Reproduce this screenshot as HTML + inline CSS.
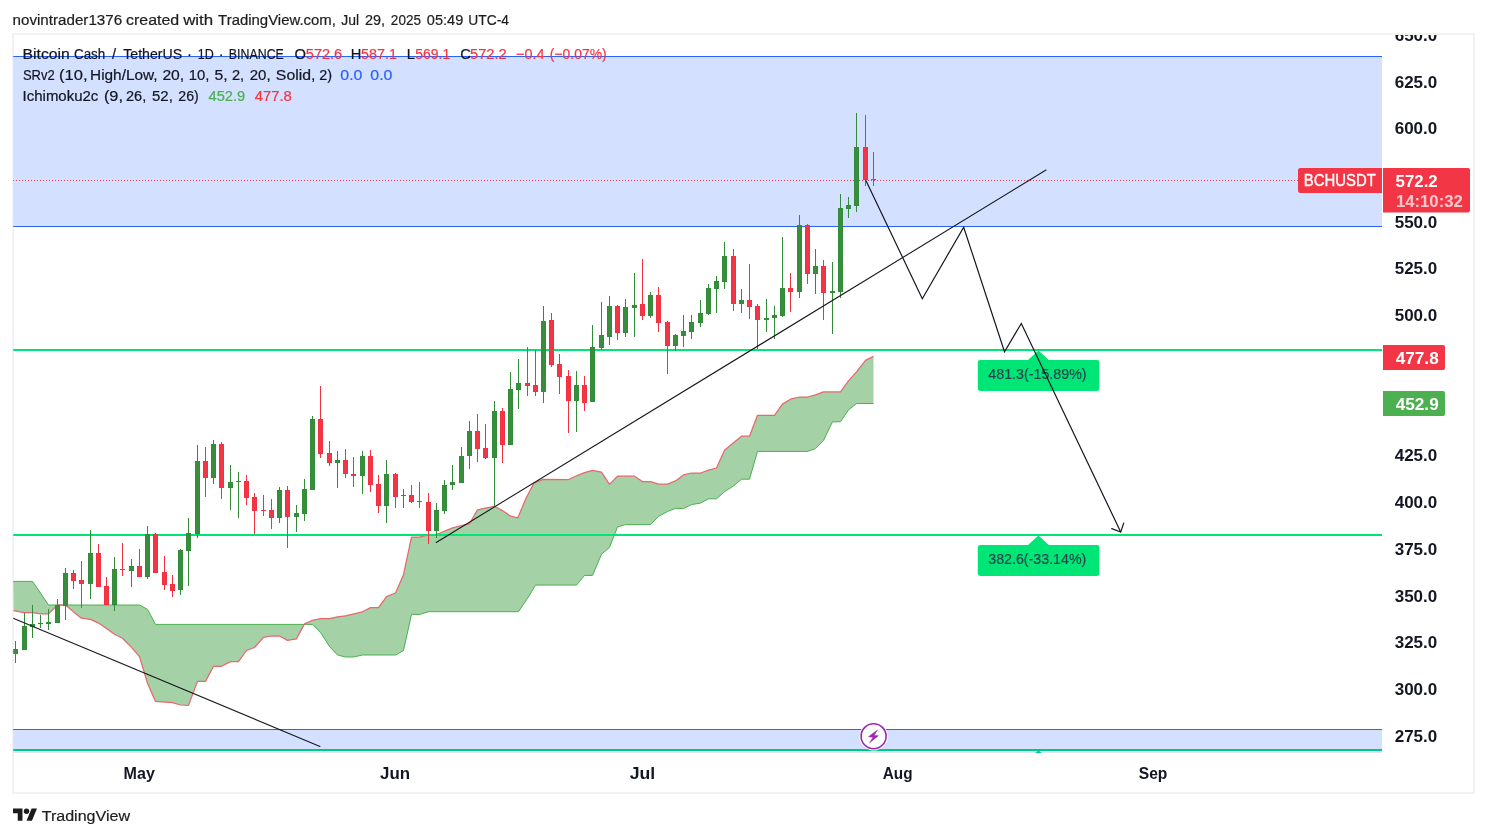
<!DOCTYPE html>
<html lang="en"><head><meta charset="utf-8"><title>BCHUSDT chart - TradingView snapshot</title>
<style>
html,body{margin:0;padding:0;background:#fff;}
body{width:1487px;height:837px;overflow:hidden;}
svg{display:block;}
text{font-family:"Liberation Sans","DejaVu Sans",sans-serif;fill:#131722;}
.ax{font-weight:bold;font-size:16.7px;}
.lg{font-size:14.7px;stroke:#131722;stroke-width:.22px;}
.hd{font-size:15.3px;fill:#1e1e1e;stroke:#1e1e1e;stroke-width:.22px;}
.r{fill:#f23645;stroke:#f23645;}.g{fill:#4caf50;stroke:#4caf50;}.b{fill:#2962ff;stroke:#2962ff;}.w{fill:#fff;}
.bd{font-weight:bold;}
.lb{font-size:14.4px;fill:#27464d;stroke:#27464d;stroke-width:.2px;}
</style></head><body>
<svg width="1487" height="837" viewBox="0 0 1487 837">
<rect width="1487" height="837" fill="#fff"/>
<rect x="13" y="34" width="1461" height="759" fill="#fff" stroke="#f2f2f2" stroke-width="2"/>
<defs><clipPath id="plot"><rect x="13.2" y="35" width="1368.8" height="718"/></clipPath>
<clipPath id="axc"><rect x="1382" y="35" width="91" height="757"/></clipPath></defs>
<g clip-path="url(#plot)">
<rect x="13" y="57" width="1369" height="169.5" fill="#d4e0ff"/>
<rect x="13" y="730" width="1369" height="23" fill="#d4e0ff"/>
<rect x="13" y="751" width="1369" height="2" fill="#dce3fc"/>
<rect x="13" y="56" width="1369" height="1" fill="#2962ff"/>
<rect x="13" y="226" width="1369" height="1" fill="#2962ff"/>
<rect x="13" y="729" width="1369" height="1" fill="#2962ff"/>
<polygon points="13.0,581.4 32.5,581.4 40.5,593.0 48.5,605.0 139.5,605.0 147.5,609.3 155.5,624.4 312.5,624.4 320.5,632.4 329.5,646.5 337.5,655.0 345.5,657.0 353.5,657.0 362.5,655.0 395.5,655.0 403.5,650.5 411.5,614.3 419.5,614.5 428.5,611.7 518.5,611.7 527.5,598.4 535.5,585.1 576.5,585.1 584.5,575.4 592.5,575.4 601.5,554.3 609.5,547.4 617.5,527.0 625.5,524.6 650.5,524.6 658.5,516.5 667.5,511.5 675.5,508.4 683.5,508.5 691.5,504.6 700.5,503.1 708.5,498.8 716.5,498.8 724.5,491.7 733.5,485.9 741.5,479.2 749.5,479.2 757.5,451.4 807.5,451.4 815.5,448.6 823.5,440.5 832.5,421.8 840.5,421.8 848.5,409.9 856.5,403.5 873.5,403.5 873.5,356.4 865.5,360.4 856.5,371.8 848.5,380.9 840.5,391.9 823.5,391.9 815.5,394.9 807.5,397.0 799.5,397.0 790.5,399.2 782.5,404.1 774.5,415.3 757.5,415.3 749.5,436.2 741.5,436.2 733.5,442.8 724.5,450.2 716.5,468.0 708.5,470.2 700.5,473.0 691.5,473.0 683.5,474.9 675.5,480.9 667.5,484.2 658.5,484.2 650.5,481.6 642.5,481.6 634.5,476.2 617.5,476.2 609.5,484.4 601.5,472.2 592.5,470.4 584.5,472.6 576.5,475.8 568.5,479.5 543.1,479.4 533.9,483.1 526.0,498.3 517.8,517.8 510.6,516.2 502.5,510.6 494.5,506.3 485.5,508.1 477.5,509.8 469.5,523.8 461.5,525.7 452.5,527.8 436.5,534.5 428.5,534.9 419.5,537.1 411.5,537.1 403.5,574.7 395.5,593.0 386.5,596.7 378.5,607.6 370.5,607.6 362.5,611.8 345.5,615.8 337.5,616.8 329.5,618.6 320.5,618.6 312.5,620.3 304.5,623.9 296.5,638.8 287.5,640.4 279.5,636.0 271.5,636.0 263.5,637.4 254.5,647.5 246.5,650.5 238.5,661.6 230.5,661.6 221.5,666.3 213.5,666.3 205.5,681.4 197.5,681.4 188.5,705.4 180.5,705.0 172.5,702.6 155.5,701.4 147.5,683.2 139.5,656.6 131.5,647.4 122.5,638.2 114.5,634.3 106.5,628.4 98.5,623.1 90.5,619.4 81.5,618.2 73.5,611.9 65.5,605.0 57.5,605.0 48.5,613.9 40.5,613.9 32.5,612.6 24.5,612.6 13.5,610.6" fill="#a5d1a7"/>
<polyline points="13.0,581.4 32.5,581.4 40.5,593.0 48.5,605.0 139.5,605.0 147.5,609.3 155.5,624.4 312.5,624.4 320.5,632.4 329.5,646.5 337.5,655.0 345.5,657.0 353.5,657.0 362.5,655.0 395.5,655.0 403.5,650.5 411.5,614.3 419.5,614.5 428.5,611.7 518.5,611.7 527.5,598.4 535.5,585.1 576.5,585.1 584.5,575.4 592.5,575.4 601.5,554.3 609.5,547.4 617.5,527.0 625.5,524.6 650.5,524.6 658.5,516.5 667.5,511.5 675.5,508.4 683.5,508.5 691.5,504.6 700.5,503.1 708.5,498.8 716.5,498.8 724.5,491.7 733.5,485.9 741.5,479.2 749.5,479.2 757.5,451.4 807.5,451.4 815.5,448.6 823.5,440.5 832.5,421.8 840.5,421.8 848.5,409.9 856.5,403.5 873.5,403.5" fill="none" stroke="#4caf50" stroke-width="1" stroke-linejoin="round"/>
<polyline points="13.5,610.6 24.5,612.6 32.5,612.6 40.5,613.9 48.5,613.9 57.5,605.0 65.5,605.0 73.5,611.9 81.5,618.2 90.5,619.4 98.5,623.1 106.5,628.4 114.5,634.3 122.5,638.2 131.5,647.4 139.5,656.6 147.5,683.2 155.5,701.4 172.5,702.6 180.5,705.0 188.5,705.4 197.5,681.4 205.5,681.4 213.5,666.3 221.5,666.3 230.5,661.6 238.5,661.6 246.5,650.5 254.5,647.5 263.5,637.4 271.5,636.0 279.5,636.0 287.5,640.4 296.5,638.8 304.5,623.9 312.5,620.3 320.5,618.6 329.5,618.6 337.5,616.8 345.5,615.8 362.5,611.8 370.5,607.6 378.5,607.6 386.5,596.7 395.5,593.0 403.5,574.7 411.5,537.1 419.5,537.1 428.5,534.9 436.5,534.5 452.5,527.8 461.5,525.7 469.5,523.8 477.5,509.8 485.5,508.1 494.5,506.3 502.5,510.6 510.6,516.2 517.8,517.8 526.0,498.3 533.9,483.1 543.1,479.4 568.5,479.5 576.5,475.8 584.5,472.6 592.5,470.4 601.5,472.2 609.5,484.4 617.5,476.2 634.5,476.2 642.5,481.6 650.5,481.6 658.5,484.2 667.5,484.2 675.5,480.9 683.5,474.9 691.5,473.0 700.5,473.0 708.5,470.2 716.5,468.0 724.5,450.2 733.5,442.8 741.5,436.2 749.5,436.2 757.5,415.3 774.5,415.3 782.5,404.1 790.5,399.2 799.5,397.0 807.5,397.0 815.5,394.9 823.5,391.9 840.5,391.9 848.5,380.9 856.5,371.8 865.5,360.4 873.5,356.4" fill="none" stroke="#e8676f" stroke-width="1.25" stroke-linejoin="round"/>
<rect x="13" y="349" width="1369" height="2" fill="#00e676"/>
<rect x="13" y="534" width="1369" height="2" fill="#00e676"/>
<rect x="13" y="749" width="1369" height="2" fill="#00c884"/>
<polygon points="1035.2,753 1038.5,750.4 1041.8,753" fill="#00c884"/>
<line x1="13" y1="180.5" x2="1298" y2="180.5" stroke="#f23645" stroke-width="1" stroke-dasharray="1 2"/>
<path d="M15 641h1v22h-1zM13 649h5v5h-5z" fill="#328b39"/>
<rect x="14" y="650" width="3" height="3" fill="#388e3c"/>
<path d="M24 613h1v37h-1zM22 626h5v24h-5z" fill="#328b39"/>
<rect x="23" y="627" width="3" height="22" fill="#388e3c"/>
<path d="M32 605h1v33h-1zM30 624h5v3h-5z" fill="#328b39"/>
<rect x="31" y="625" width="3" height="1" fill="#388e3c"/>
<path d="M40 615h1v13h-1zM38 623h5v1h-5z" fill="#328b39"/>
<path d="M48 609h1v21h-1zM46 622h5v2h-5z" fill="#328b39"/>
<path d="M57 599h1v24h-1zM55 605h5v18h-5z" fill="#328b39"/>
<rect x="56" y="606" width="3" height="16" fill="#388e3c"/>
<path d="M65 568h1v52h-1zM63 573h5v33h-5z" fill="#328b39"/>
<rect x="64" y="574" width="3" height="31" fill="#388e3c"/>
<path d="M73 570h1v19h-1zM71 573h5v8h-5z" fill="#f13041"/>
<rect x="72" y="574" width="3" height="6" fill="#f23645"/>
<path d="M81 561h1v47h-1zM79 580h5v4h-5z" fill="#f13041"/>
<rect x="80" y="581" width="3" height="2" fill="#f23645"/>
<path d="M90 530h1v69h-1zM88 553h5v31h-5z" fill="#328b39"/>
<rect x="89" y="554" width="3" height="29" fill="#388e3c"/>
<path d="M98 544h1v43h-1zM96 553h5v34h-5z" fill="#f13041"/>
<rect x="97" y="554" width="3" height="32" fill="#f23645"/>
<path d="M106 577h1v28h-1zM104 586h5v19h-5z" fill="#f13041"/>
<rect x="105" y="587" width="3" height="17" fill="#f23645"/>
<path d="M114 557h1v54h-1zM112 569h5v36h-5z" fill="#328b39"/>
<rect x="113" y="570" width="3" height="34" fill="#388e3c"/>
<path d="M122 543h1v33h-1zM120 569h5v1h-5z" fill="#f13041"/>
<path d="M131 559h1v28h-1zM129 566h5v5h-5z" fill="#328b39"/>
<rect x="130" y="567" width="3" height="3" fill="#388e3c"/>
<path d="M139 549h1v28h-1zM137 566h5v11h-5z" fill="#f13041"/>
<rect x="138" y="567" width="3" height="9" fill="#f23645"/>
<path d="M147 526h1v53h-1zM145 534h5v43h-5z" fill="#328b39"/>
<rect x="146" y="535" width="3" height="41" fill="#388e3c"/>
<path d="M155 533h1v40h-1zM153 534h5v39h-5z" fill="#f13041"/>
<rect x="154" y="535" width="3" height="37" fill="#f23645"/>
<path d="M164 556h1v34h-1zM162 572h5v13h-5z" fill="#f13041"/>
<rect x="163" y="573" width="3" height="11" fill="#f23645"/>
<path d="M172 575h1v22h-1zM170 584h5v7h-5z" fill="#f13041"/>
<rect x="171" y="585" width="3" height="5" fill="#f23645"/>
<path d="M180 549h1v46h-1zM178 550h5v40h-5z" fill="#328b39"/>
<rect x="179" y="551" width="3" height="38" fill="#388e3c"/>
<path d="M188 518h1v68h-1zM186 533h5v18h-5z" fill="#328b39"/>
<rect x="187" y="534" width="3" height="16" fill="#388e3c"/>
<path d="M197 445h1v93h-1zM195 461h5v73h-5z" fill="#328b39"/>
<rect x="196" y="462" width="3" height="71" fill="#388e3c"/>
<path d="M205 447h1v50h-1zM203 461h5v17h-5z" fill="#f13041"/>
<rect x="204" y="462" width="3" height="15" fill="#f23645"/>
<path d="M213 440h1v44h-1zM211 444h5v34h-5z" fill="#328b39"/>
<rect x="212" y="445" width="3" height="32" fill="#388e3c"/>
<path d="M221 442h1v57h-1zM219 444h5v44h-5z" fill="#f13041"/>
<rect x="220" y="445" width="3" height="42" fill="#f23645"/>
<path d="M230 465h1v45h-1zM228 482h5v6h-5z" fill="#328b39"/>
<rect x="229" y="483" width="3" height="4" fill="#388e3c"/>
<path d="M238 472h1v46h-1zM236 481h5v1h-5z" fill="#328b39"/>
<path d="M246 475h1v30h-1zM244 481h5v17h-5z" fill="#f13041"/>
<rect x="245" y="482" width="3" height="15" fill="#f23645"/>
<path d="M254 493h1v41h-1zM252 497h5v14h-5z" fill="#f13041"/>
<rect x="253" y="498" width="3" height="12" fill="#f23645"/>
<path d="M263 495h1v21h-1zM261 510h5v1h-5z" fill="#f13041"/>
<path d="M271 499h1v30h-1zM269 510h5v8h-5z" fill="#f13041"/>
<rect x="270" y="511" width="3" height="6" fill="#f23645"/>
<path d="M279 487h1v36h-1zM277 490h5v28h-5z" fill="#328b39"/>
<rect x="278" y="491" width="3" height="26" fill="#388e3c"/>
<path d="M287 486h1v62h-1zM285 490h5v27h-5z" fill="#f13041"/>
<rect x="286" y="491" width="3" height="25" fill="#f23645"/>
<path d="M296 505h1v27h-1zM294 513h5v4h-5z" fill="#328b39"/>
<rect x="295" y="514" width="3" height="2" fill="#388e3c"/>
<path d="M304 479h1v42h-1zM302 489h5v25h-5z" fill="#328b39"/>
<rect x="303" y="490" width="3" height="23" fill="#388e3c"/>
<path d="M312 416h1v74h-1zM310 419h5v71h-5z" fill="#328b39"/>
<rect x="311" y="420" width="3" height="69" fill="#388e3c"/>
<path d="M320 386h1v72h-1zM318 419h5v35h-5z" fill="#f13041"/>
<rect x="319" y="420" width="3" height="33" fill="#f23645"/>
<path d="M329 441h1v25h-1zM327 453h5v10h-5z" fill="#f13041"/>
<rect x="328" y="454" width="3" height="8" fill="#f23645"/>
<path d="M337 451h1v37h-1zM335 460h5v3h-5z" fill="#328b39"/>
<rect x="336" y="461" width="3" height="1" fill="#388e3c"/>
<path d="M345 449h1v29h-1zM343 460h5v14h-5z" fill="#f13041"/>
<rect x="344" y="461" width="3" height="12" fill="#f23645"/>
<path d="M353 457h1v30h-1zM351 474h5v2h-5z" fill="#f13041"/>
<path d="M362 451h1v43h-1zM360 456h5v20h-5z" fill="#328b39"/>
<rect x="361" y="457" width="3" height="18" fill="#388e3c"/>
<path d="M370 450h1v42h-1zM368 456h5v29h-5z" fill="#f13041"/>
<rect x="369" y="457" width="3" height="27" fill="#f23645"/>
<path d="M378 475h1v38h-1zM376 484h5v22h-5z" fill="#f13041"/>
<rect x="377" y="485" width="3" height="20" fill="#f23645"/>
<path d="M386 460h1v63h-1zM384 474h5v32h-5z" fill="#328b39"/>
<rect x="385" y="475" width="3" height="30" fill="#388e3c"/>
<path d="M395 473h1v35h-1zM393 474h5v23h-5z" fill="#f13041"/>
<rect x="394" y="475" width="3" height="21" fill="#f23645"/>
<path d="M403 489h1v19h-1zM401 495h5v1h-5z" fill="#328b39"/>
<path d="M411 485h1v18h-1zM409 495h5v7h-5z" fill="#f13041"/>
<rect x="410" y="496" width="3" height="5" fill="#f23645"/>
<path d="M419 482h1v26h-1zM417 501h5v1h-5z" fill="#f13041"/>
<path d="M428 493h1v51h-1zM426 502h5v29h-5z" fill="#f13041"/>
<rect x="427" y="503" width="3" height="27" fill="#f23645"/>
<path d="M436 503h1v35h-1zM434 510h5v21h-5z" fill="#328b39"/>
<rect x="435" y="511" width="3" height="19" fill="#388e3c"/>
<path d="M444 480h1v34h-1zM442 485h5v26h-5z" fill="#328b39"/>
<rect x="443" y="486" width="3" height="24" fill="#388e3c"/>
<path d="M452 465h1v25h-1zM450 482h5v3h-5z" fill="#328b39"/>
<rect x="451" y="483" width="3" height="1" fill="#388e3c"/>
<path d="M461 447h1v36h-1zM459 456h5v27h-5z" fill="#328b39"/>
<rect x="460" y="457" width="3" height="25" fill="#388e3c"/>
<path d="M469 421h1v48h-1zM467 431h5v25h-5z" fill="#328b39"/>
<rect x="468" y="432" width="3" height="23" fill="#388e3c"/>
<path d="M477 414h1v48h-1zM475 431h5v18h-5z" fill="#f13041"/>
<rect x="476" y="432" width="3" height="16" fill="#f23645"/>
<path d="M485 424h1v35h-1zM483 448h5v10h-5z" fill="#f13041"/>
<rect x="484" y="449" width="3" height="8" fill="#f23645"/>
<path d="M494 401h1v105h-1zM492 411h5v47h-5z" fill="#328b39"/>
<rect x="493" y="412" width="3" height="45" fill="#388e3c"/>
<path d="M502 408h1v55h-1zM500 411h5v34h-5z" fill="#f13041"/>
<rect x="501" y="412" width="3" height="32" fill="#f23645"/>
<path d="M510 372h1v73h-1zM508 389h5v56h-5z" fill="#328b39"/>
<rect x="509" y="390" width="3" height="54" fill="#388e3c"/>
<path d="M518 359h1v50h-1zM516 383h5v7h-5z" fill="#328b39"/>
<rect x="517" y="384" width="3" height="5" fill="#388e3c"/>
<path d="M527 347h1v49h-1zM525 383h5v3h-5z" fill="#f13041"/>
<rect x="526" y="384" width="3" height="1" fill="#f23645"/>
<path d="M535 350h1v46h-1zM533 385h5v7h-5z" fill="#f13041"/>
<rect x="534" y="386" width="3" height="5" fill="#f23645"/>
<path d="M543 306h1v97h-1zM541 321h5v71h-5z" fill="#328b39"/>
<rect x="542" y="322" width="3" height="69" fill="#388e3c"/>
<path d="M551 313h1v54h-1zM549 320h5v45h-5z" fill="#f13041"/>
<rect x="550" y="321" width="3" height="43" fill="#f23645"/>
<path d="M559 354h1v40h-1zM557 364h5v13h-5z" fill="#f13041"/>
<rect x="558" y="365" width="3" height="11" fill="#f23645"/>
<path d="M568 370h1v63h-1zM566 376h5v25h-5z" fill="#f13041"/>
<rect x="567" y="377" width="3" height="23" fill="#f23645"/>
<path d="M576 371h1v61h-1zM574 385h5v16h-5z" fill="#328b39"/>
<rect x="575" y="386" width="3" height="14" fill="#388e3c"/>
<path d="M584 376h1v35h-1zM582 385h5v18h-5z" fill="#f13041"/>
<rect x="583" y="386" width="3" height="16" fill="#f23645"/>
<path d="M592 325h1v77h-1zM590 347h5v55h-5z" fill="#328b39"/>
<rect x="591" y="348" width="3" height="53" fill="#388e3c"/>
<path d="M601 302h1v48h-1zM599 335h5v13h-5z" fill="#328b39"/>
<rect x="600" y="336" width="3" height="11" fill="#388e3c"/>
<path d="M609 296h1v49h-1zM607 306h5v31h-5z" fill="#328b39"/>
<rect x="608" y="307" width="3" height="29" fill="#388e3c"/>
<path d="M617 305h1v35h-1zM615 306h5v27h-5z" fill="#f13041"/>
<rect x="616" y="307" width="3" height="25" fill="#f23645"/>
<path d="M625 299h1v38h-1zM623 307h5v26h-5z" fill="#328b39"/>
<rect x="624" y="308" width="3" height="24" fill="#388e3c"/>
<path d="M634 273h1v64h-1zM632 305h5v3h-5z" fill="#328b39"/>
<rect x="633" y="306" width="3" height="1" fill="#388e3c"/>
<path d="M642 259h1v61h-1zM640 304h5v12h-5z" fill="#f13041"/>
<rect x="641" y="305" width="3" height="10" fill="#f23645"/>
<path d="M650 292h1v26h-1zM648 295h5v21h-5z" fill="#328b39"/>
<rect x="649" y="296" width="3" height="19" fill="#388e3c"/>
<path d="M658 287h1v45h-1zM656 295h5v28h-5z" fill="#f13041"/>
<rect x="657" y="296" width="3" height="26" fill="#f23645"/>
<path d="M667 321h1v53h-1zM665 322h5v24h-5z" fill="#f13041"/>
<rect x="666" y="323" width="3" height="22" fill="#f23645"/>
<path d="M675 334h1v17h-1zM673 335h5v11h-5z" fill="#328b39"/>
<rect x="674" y="336" width="3" height="9" fill="#388e3c"/>
<path d="M683 315h1v32h-1zM681 331h5v5h-5z" fill="#328b39"/>
<rect x="682" y="332" width="3" height="3" fill="#388e3c"/>
<path d="M691 315h1v24h-1zM689 322h5v10h-5z" fill="#328b39"/>
<rect x="690" y="323" width="3" height="8" fill="#388e3c"/>
<path d="M700 300h1v27h-1zM698 313h5v10h-5z" fill="#328b39"/>
<rect x="699" y="314" width="3" height="8" fill="#388e3c"/>
<path d="M708 284h1v31h-1zM706 288h5v26h-5z" fill="#328b39"/>
<rect x="707" y="289" width="3" height="24" fill="#388e3c"/>
<path d="M716 276h1v37h-1zM714 281h5v8h-5z" fill="#328b39"/>
<rect x="715" y="282" width="3" height="6" fill="#388e3c"/>
<path d="M724 242h1v47h-1zM722 256h5v26h-5z" fill="#328b39"/>
<rect x="723" y="257" width="3" height="24" fill="#388e3c"/>
<path d="M733 249h1v62h-1zM731 256h5v48h-5z" fill="#f13041"/>
<rect x="732" y="257" width="3" height="46" fill="#f23645"/>
<path d="M741 289h1v24h-1zM739 300h5v4h-5z" fill="#328b39"/>
<rect x="740" y="301" width="3" height="2" fill="#388e3c"/>
<path d="M749 264h1v55h-1zM747 300h5v7h-5z" fill="#f13041"/>
<rect x="748" y="301" width="3" height="5" fill="#f23645"/>
<path d="M757 304h1v45h-1zM755 306h5v14h-5z" fill="#f13041"/>
<rect x="756" y="307" width="3" height="12" fill="#f23645"/>
<path d="M766 299h1v33h-1zM764 318h5v2h-5z" fill="#328b39"/>
<path d="M774 306h1v33h-1zM772 315h5v3h-5z" fill="#328b39"/>
<rect x="773" y="316" width="3" height="1" fill="#388e3c"/>
<path d="M782 237h1v80h-1zM780 288h5v28h-5z" fill="#328b39"/>
<rect x="781" y="289" width="3" height="26" fill="#388e3c"/>
<path d="M790 273h1v39h-1zM788 288h5v4h-5z" fill="#f13041"/>
<rect x="789" y="289" width="3" height="2" fill="#f23645"/>
<path d="M799 215h1v83h-1zM797 225h5v67h-5z" fill="#328b39"/>
<rect x="798" y="226" width="3" height="65" fill="#388e3c"/>
<path d="M807 224h1v60h-1zM805 225h5v49h-5z" fill="#f13041"/>
<rect x="806" y="226" width="3" height="47" fill="#f23645"/>
<path d="M815 249h1v45h-1zM813 266h5v8h-5z" fill="#328b39"/>
<rect x="814" y="267" width="3" height="6" fill="#388e3c"/>
<path d="M823 260h1v60h-1zM821 266h5v27h-5z" fill="#f13041"/>
<rect x="822" y="267" width="3" height="25" fill="#f23645"/>
<path d="M832 262h1v72h-1zM830 291h5v2h-5z" fill="#328b39"/>
<path d="M840 194h1v104h-1zM838 208h5v84h-5z" fill="#328b39"/>
<rect x="839" y="209" width="3" height="82" fill="#388e3c"/>
<path d="M848 197h1v21h-1zM846 205h5v4h-5z" fill="#328b39"/>
<rect x="847" y="206" width="3" height="2" fill="#388e3c"/>
<path d="M856 113h1v99h-1zM854 147h5v59h-5z" fill="#328b39"/>
<rect x="855" y="148" width="3" height="57" fill="#388e3c"/>
<path d="M865 115h1v71h-1zM863 147h5v33h-5z" fill="#f13041"/>
<rect x="864" y="148" width="3" height="31" fill="#f23645"/>
<path d="M873 152h1v34h-1zM871 179h5v1h-5z" fill="#f13041"/>
<path d="M980.2 360h47.8l10.4 -9.6l10.4 9.6h48.2a2.4 2.4 0 0 1 2.4 2.4v26.2a2.4 2.4 0 0 1 -2.4 2.4h-116.8a2.4 2.4 0 0 1 -2.4 -2.4v-26.2a2.4 2.4 0 0 1 2.4 -2.4z" fill="#00e676"/>
<text class="lb" x="988.3" y="378.9" textLength="98.3" lengthAdjust="spacingAndGlyphs">481.3(-15.89%)</text>
<path d="M980.2 545h47.8l10.4 -9.6l10.4 9.6h48.2a2.4 2.4 0 0 1 2.4 2.4v26.2a2.4 2.4 0 0 1 -2.4 2.4h-116.8a2.4 2.4 0 0 1 -2.4 -2.4v-26.2a2.4 2.4 0 0 1 2.4 -2.4z" fill="#00e676"/>
<text class="lb" x="988.3" y="563.9" textLength="98.0" lengthAdjust="spacingAndGlyphs">382.6(-33.14%)</text>
<g fill="none" stroke="#17191f" stroke-width="1.1" stroke-linecap="round">
<line x1="13.2" y1="618.3" x2="320" y2="746.4"/>
<line x1="436.2" y1="542.5" x2="1046" y2="170"/>
</g>
<g fill="none" stroke="#131722" stroke-width="1.2" stroke-linecap="round" stroke-linejoin="miter">
<polyline points="865.9,180.5 922.3,298.7 963.7,227.2 1004.5,351.7 1021.3,323.4 1120.7,532"/>
<polyline points="1111.7,528.6 1120.7,532 1123.7,523.1"/>
</g>
<circle cx="873.6" cy="736.2" r="14.2" fill="#fff"/>
<circle cx="873.6" cy="736.2" r="12.5" fill="#fff" stroke="#9c27b0" stroke-width="1.6"/>
<path d="M877.4 730l-8.9 6.8l4.6 .35l-3.5 5.7l8.8 -7.15l-4.3 -.3z" fill="#9c27b0" stroke="#9c27b0" stroke-width=".5" stroke-linejoin="round"/>
<path d="M1300.5 168h81.5v25h-81.5a2.5 2.5 0 0 1 -2.5 -2.5v-20a2.5 2.5 0 0 1 2.5 -2.5z" fill="#f23645"/>
<text x="1303.8" y="186.4" class="w" style="font-size:16.3px;stroke:#fff;stroke-width:.35px" textLength="72" lengthAdjust="spacingAndGlyphs">BCHUSDT</text>
</g>
<text class="hd" x="12.54" y="24.9" textLength="109.59" lengthAdjust="spacingAndGlyphs">novintrader1376</text>
<text class="hd" x="126.04" y="24.9" textLength="53.15" lengthAdjust="spacingAndGlyphs">created</text>
<text class="hd" x="183.18" y="24.9" textLength="29.97" lengthAdjust="spacingAndGlyphs">with</text>
<text class="hd" x="218.12" y="24.9" textLength="117.75" lengthAdjust="spacingAndGlyphs">TradingView.com,</text>
<text class="hd" x="341.24" y="24.9" textLength="17.83" lengthAdjust="spacingAndGlyphs">Jul</text>
<text class="hd" x="364.92" y="24.9" textLength="20.08" lengthAdjust="spacingAndGlyphs">29,</text>
<text class="hd" x="390.86" y="24.9" textLength="30.07" lengthAdjust="spacingAndGlyphs">2025</text>
<text class="hd" x="426.86" y="24.9" textLength="36.42" lengthAdjust="spacingAndGlyphs">05:49</text>
<text class="hd" x="468.36" y="24.9" textLength="40.62" lengthAdjust="spacingAndGlyphs">UTC-4</text>
<text class="lg" x="22.60" y="58.9" textLength="47.19" lengthAdjust="spacingAndGlyphs">Bitcoin</text>
<text class="lg" x="73.98" y="58.9" textLength="31.33" lengthAdjust="spacingAndGlyphs">Cash</text>
<text class="lg" x="112.04" y="58.9">/</text>
<text class="lg" x="123.24" y="58.9" textLength="58.96" lengthAdjust="spacingAndGlyphs">TetherUS</text>
<text class="lg" x="187.10" y="58.9">·</text>
<text class="lg" x="197.80" y="58.9" textLength="16.01" lengthAdjust="spacingAndGlyphs">1D</text>
<text class="lg" x="218.64" y="58.9">·</text>
<text class="lg" x="228.86" y="58.9" textLength="55.00" lengthAdjust="spacingAndGlyphs">BINANCE</text>
<text class="lg" x="294.54" y="58.9">O</text>
<text class="lg r" x="305.80" y="58.9" textLength="36.40" lengthAdjust="spacingAndGlyphs">572.6</text>
<text class="lg" x="350.78" y="58.9">H</text>
<text class="lg r" x="360.98" y="58.9" textLength="35.90" lengthAdjust="spacingAndGlyphs">587.1</text>
<text class="lg" x="406.64" y="58.9">L</text>
<text class="lg r" x="415.24" y="58.9" textLength="35.05" lengthAdjust="spacingAndGlyphs">569.1</text>
<text class="lg" x="460.18" y="58.9">C</text>
<text class="lg r" x="469.98" y="58.9" textLength="36.84" lengthAdjust="spacingAndGlyphs">572.2</text>
<text class="lg r" x="516.04" y="58.9" textLength="28.53" lengthAdjust="spacingAndGlyphs">−0.4</text>
<text class="lg r" x="549.86" y="58.9" textLength="56.78" lengthAdjust="spacingAndGlyphs">(−0.07%)</text>
<text class="lg" x="22.92" y="80.0" textLength="31.80" lengthAdjust="spacingAndGlyphs">SRv2</text>
<text class="lg" x="59.04" y="80.0" textLength="28.47" lengthAdjust="spacingAndGlyphs">(10,</text>
<text class="lg" x="90.04" y="80.0" textLength="67.52" lengthAdjust="spacingAndGlyphs">High/Low,</text>
<text class="lg" x="162.42" y="80.0" textLength="21.79" lengthAdjust="spacingAndGlyphs">20,</text>
<text class="lg" x="188.72" y="80.0" textLength="20.61" lengthAdjust="spacingAndGlyphs">10,</text>
<text class="lg" x="214.54" y="80.0" textLength="13.09" lengthAdjust="spacingAndGlyphs">5,</text>
<text class="lg" x="231.92" y="80.0" textLength="12.16" lengthAdjust="spacingAndGlyphs">2,</text>
<text class="lg" x="249.80" y="80.0" textLength="20.81" lengthAdjust="spacingAndGlyphs">20,</text>
<text class="lg" x="275.86" y="80.0" textLength="39.55" lengthAdjust="spacingAndGlyphs">Solid,</text>
<text class="lg" x="319.36" y="80.0" textLength="12.79" lengthAdjust="spacingAndGlyphs">2)</text>
<text class="lg b" x="340.36" y="80.0" textLength="22.11" lengthAdjust="spacingAndGlyphs">0.0</text>
<text class="lg b" x="370.36" y="80.0" textLength="22.11" lengthAdjust="spacingAndGlyphs">0.0</text>
<text class="lg" x="22.60" y="101.4" textLength="75.75" lengthAdjust="spacingAndGlyphs">Ichimoku2c</text>
<text class="lg" x="103.92" y="101.4" textLength="19.08" lengthAdjust="spacingAndGlyphs">(9,</text>
<text class="lg" x="126.04" y="101.4" textLength="20.20" lengthAdjust="spacingAndGlyphs">26,</text>
<text class="lg" x="152.04" y="101.4" textLength="20.77" lengthAdjust="spacingAndGlyphs">52,</text>
<text class="lg" x="178.30" y="101.4" textLength="20.44" lengthAdjust="spacingAndGlyphs">26)</text>
<text class="lg g" x="208.56" y="101.4" textLength="36.68" lengthAdjust="spacingAndGlyphs">452.9</text>
<text class="lg r" x="254.68" y="101.4" textLength="37.11" lengthAdjust="spacingAndGlyphs">477.8</text>
<g clip-path="url(#axc)">
<text class="ax" x="1394.7" y="40.8" textLength="42.6" lengthAdjust="spacingAndGlyphs">650.0</text>
<text class="ax" x="1394.7" y="87.5" textLength="42.6" lengthAdjust="spacingAndGlyphs">625.0</text>
<text class="ax" x="1394.7" y="134.3" textLength="42.6" lengthAdjust="spacingAndGlyphs">600.0</text>
<text class="ax" x="1394.7" y="227.7" textLength="42.6" lengthAdjust="spacingAndGlyphs">550.0</text>
<text class="ax" x="1394.7" y="274.4" textLength="42.6" lengthAdjust="spacingAndGlyphs">525.0</text>
<text class="ax" x="1394.7" y="321.2" textLength="42.6" lengthAdjust="spacingAndGlyphs">500.0</text>
<text class="ax" x="1394.7" y="461.3" textLength="42.6" lengthAdjust="spacingAndGlyphs">425.0</text>
<text class="ax" x="1394.7" y="508.1" textLength="42.6" lengthAdjust="spacingAndGlyphs">400.0</text>
<text class="ax" x="1394.7" y="554.8" textLength="42.6" lengthAdjust="spacingAndGlyphs">375.0</text>
<text class="ax" x="1394.7" y="601.5" textLength="42.6" lengthAdjust="spacingAndGlyphs">350.0</text>
<text class="ax" x="1394.7" y="648.3" textLength="42.6" lengthAdjust="spacingAndGlyphs">325.0</text>
<text class="ax" x="1394.7" y="695.0" textLength="42.6" lengthAdjust="spacingAndGlyphs">300.0</text>
<text class="ax" x="1394.7" y="741.7" textLength="42.6" lengthAdjust="spacingAndGlyphs">275.0</text>
</g>
<path d="M1383 168h85a2 2 0 0 1 2 2v40.6a2 2 0 0 1 -2 2h-85z" fill="#f23645"/>
<text class="ax w" x="1395.5" y="186.5" textLength="42.2" lengthAdjust="spacingAndGlyphs">572.2</text>
<text class="ax w" x="1395.9" y="206.6" fill-opacity="0.72" textLength="66.9" lengthAdjust="spacingAndGlyphs">14:10:32</text>
<path d="M1383 345h60a2 2 0 0 1 2 2v21a2 2 0 0 1 -2 2h-60z" fill="#f23645"/>
<text class="ax w" x="1395.7" y="363.6" textLength="43" lengthAdjust="spacingAndGlyphs">477.8</text>
<path d="M1383 391h60a2 2 0 0 1 2 2v21a2 2 0 0 1 -2 2h-60z" fill="#4caf50"/>
<text class="ax w" x="1395.7" y="409.7" textLength="43" lengthAdjust="spacingAndGlyphs">452.9</text>
<text class="ax" x="123.6" y="778.9" textLength="31.3" lengthAdjust="spacingAndGlyphs">May</text>
<text class="ax" x="380.1" y="778.9" textLength="30.0" lengthAdjust="spacingAndGlyphs">Jun</text>
<text class="ax" x="629.7" y="778.9" textLength="25.5" lengthAdjust="spacingAndGlyphs">Jul</text>
<text class="ax" x="882.8" y="778.9" textLength="29.8" lengthAdjust="spacingAndGlyphs">Aug</text>
<text class="ax" x="1138.8" y="778.9" textLength="28.6" lengthAdjust="spacingAndGlyphs">Sep</text>
<g transform="translate(13,805.8) scale(0.676)" fill="#1c1c1c">
<path d="M14 22H7V11H0V4h14v18zM28 22h-8l7.5-18h8L28 22z"/><circle cx="20" cy="8" r="4"/></g>
<text x="41.7" y="820.8" style="font-size:15.5px;fill:#1e1e1e;stroke:#1e1e1e;stroke-width:.2px" textLength="88.4" lengthAdjust="spacingAndGlyphs">TradingView</text>
</svg></body></html>
